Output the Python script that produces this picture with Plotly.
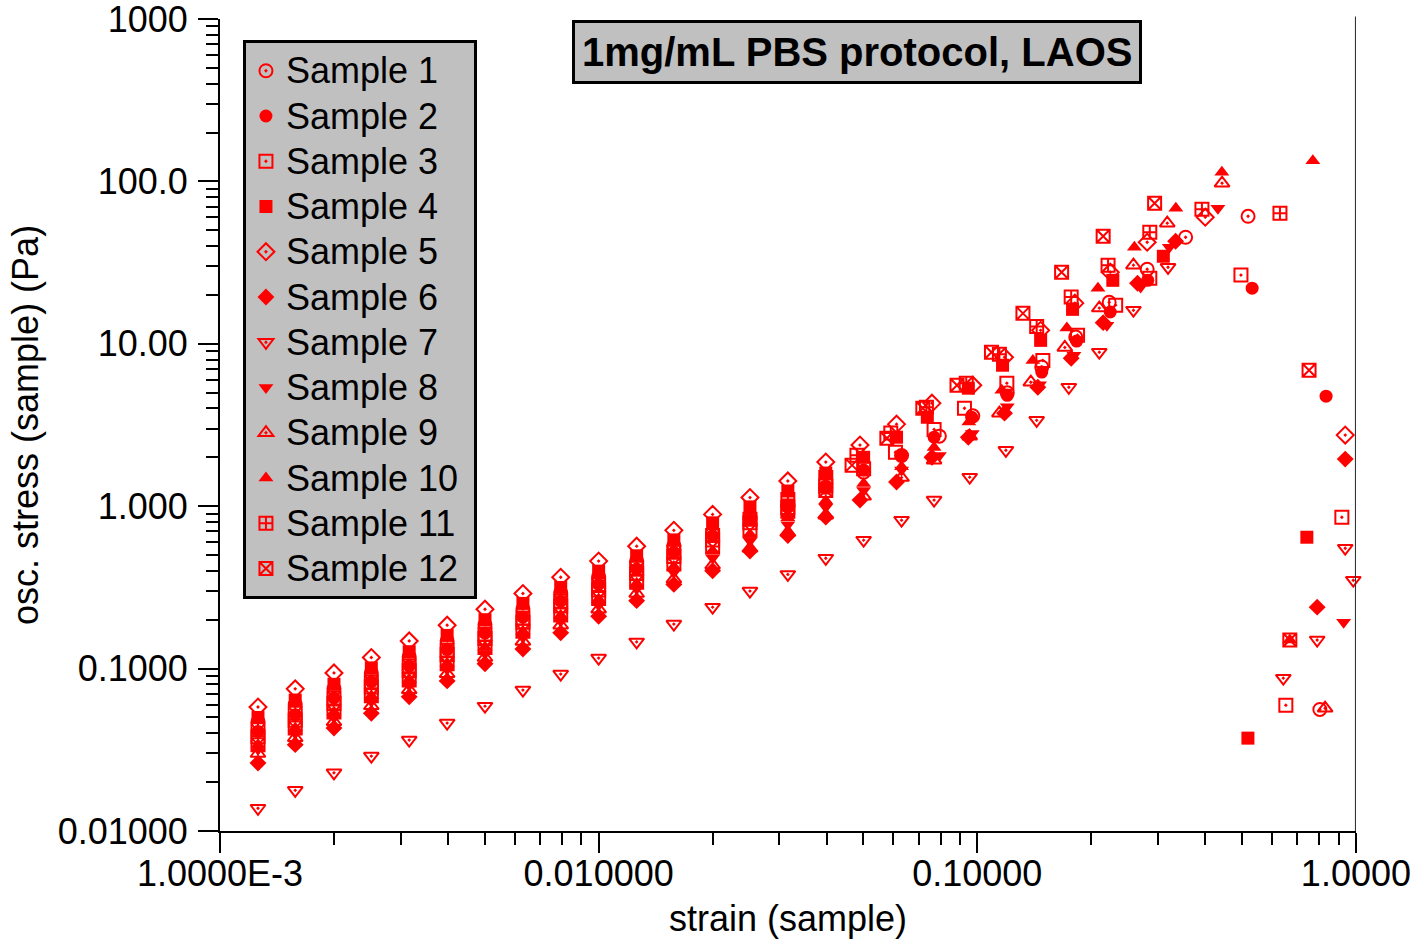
import plotly.graph_objects as go

# Shared strain amplitude steps of the sweep (low-amplitude part, 0.1 decade apart)
STRAIN_STEPS = [0.00126, 0.00158, 0.00200, 0.00251, 0.00316, 0.00398, 0.00501, 0.00631,
                0.00794, 0.0100, 0.0126, 0.0158, 0.0200, 0.0251, 0.0316, 0.0398]

# Stress at the shared steps, then the large-amplitude tail of each run
s1_low = [0.047, 0.060, 0.075, 0.094, 0.118, 0.148, 0.186, 0.233, 0.293, 0.368, 0.46, 0.57, 0.68, 0.84, 1.0, 1.31]
s1_tail_strain = [0.0501, 0.0631, 0.0794, 0.0973, 0.120, 0.148, 0.182, 0.223, 0.281, 0.355, 0.519, 0.803]
s1_tail_stress = [1.62, 2.05, 2.7, 3.6, 5.0, 7.2, 11.0, 18.0, 28.8, 45.3, 61.0, 0.056]

s2_low = [0.041, 0.052, 0.066, 0.083, 0.104, 0.131, 0.165, 0.207, 0.26, 0.33, 0.41, 0.52, 0.66, 0.83, 1.0, 1.3]
s2_tail_strain = [0.0501, 0.0631, 0.0769, 0.0967, 0.120, 0.148, 0.183, 0.2245, 0.282, 0.532, 0.834]
s2_tail_stress = [1.67, 2.06, 2.66, 3.53, 4.82, 6.7, 10.4, 15.7, 24.6, 22.0, 4.76]

s3_low = [0.038, 0.048, 0.061, 0.077, 0.097, 0.122, 0.153, 0.193, 0.243, 0.305, 0.385, 0.49, 0.62, 0.79, 0.98, 1.33]
s3_tail_strain = [0.0501, 0.0608, 0.0769, 0.0925, 0.1197, 0.149, 0.184, 0.232, 0.2855, 0.497, 0.918, 0.653]
s3_tail_stress = [1.7, 2.15, 2.97, 4.01, 5.72, 7.9, 11.3, 17.3, 25.3, 26.5, 0.855, 0.0595]

s4_low = [0.050, 0.064, 0.080, 0.101, 0.127, 0.160, 0.200, 0.252, 0.316, 0.398, 0.495, 0.62, 0.79, 0.99, 1.24, 1.60]
s4_tail_strain = [0.0501, 0.0612, 0.0738, 0.0947, 0.1166, 0.147, 0.1785, 0.228, 0.310, 0.742, 0.5185]
s4_tail_stress = [2.0, 2.66, 3.53, 5.33, 7.38, 10.5, 16.3, 24.6, 34.6, 0.644, 0.0373]

s5_low = [0.058, 0.075, 0.094, 0.117, 0.148, 0.185, 0.232, 0.29, 0.365, 0.459, 0.567, 0.71, 0.89, 1.13, 1.43, 1.87]
s5_tail_strain = [0.049, 0.0612, 0.0759, 0.0973, 0.118, 0.147, 0.181, 0.2245, 0.281, 0.400, 0.937]
s5_tail_stress = [2.38, 3.20, 4.31, 5.56, 8.27, 12.1, 17.8, 27.6, 42.2, 60.2, 2.74]

s6_low = [0.0262, 0.034, 0.043, 0.053, 0.067, 0.084, 0.107, 0.132, 0.166, 0.21, 0.262, 0.33, 0.40, 0.53, 0.66, 0.856]
s6_tail_strain = [0.049, 0.0612, 0.0759, 0.0947, 0.118, 0.1445, 0.177, 0.215, 0.265, 0.334, 0.937, 0.790]
s6_tail_stress = [1.09, 1.41, 2.0, 2.66, 3.74, 5.4, 8.15, 13.5, 23.6, 42.8, 1.95, 0.239]

s7_low = [0.0138, 0.0178, 0.0228, 0.0289, 0.0363, 0.0462, 0.0587, 0.0737, 0.0925, 0.116, 0.146, 0.188, 0.239, 0.30, 0.38, 0.478]
s7_tail_strain = [0.0501, 0.0631, 0.0769, 0.0955, 0.119, 0.1435, 0.1745, 0.210, 0.2585, 0.319, 0.643, 0.790, 0.937, 0.984]
s7_tail_stress = [0.618, 0.82, 1.09, 1.51, 2.21, 3.38, 5.40, 8.88, 16.1, 29.6, 0.0873, 0.15, 0.551, 0.35]

s8_low = [0.032, 0.040, 0.050, 0.063, 0.079, 0.099, 0.124, 0.156, 0.196, 0.246, 0.31, 0.39, 0.48, 0.61, 0.77, 0.986]
s8_tail_strain = [0.0501, 0.0631, 0.0794, 0.097, 0.120, 0.146, 0.180, 0.220, 0.270, 0.3215, 0.432, 0.928]
s8_tail_stress = [1.25, 1.67, 2.05, 2.8, 4.1, 5.6, 8.5, 13.0, 22.4, 39.3, 68.4, 0.193]

s9_low = [0.030, 0.0375, 0.047, 0.059, 0.074, 0.093, 0.117, 0.147, 0.185, 0.232, 0.29, 0.355, 0.433, 0.55, 0.69, 0.88]
s9_tail_strain = [0.0501, 0.0631, 0.0769, 0.0955, 0.1144, 0.1385, 0.1703, 0.210, 0.2585, 0.3175, 0.443, 0.829]
s9_tail_stress = [1.15, 1.5, 1.92, 2.7, 3.74, 5.8, 9.5, 16.6, 30.5, 55.3, 97.5, 0.057]

s10_low = [0.034, 0.043, 0.054, 0.068, 0.086, 0.108, 0.136, 0.170, 0.213, 0.268, 0.335, 0.425, 0.53, 0.67, 0.85, 1.08]
s10_tail_strain = [0.0501, 0.0631, 0.0769, 0.095, 0.1161, 0.1402, 0.1724, 0.2083, 0.260, 0.3345, 0.4425, 0.7695, 0.669]
s10_tail_stress = [1.38, 1.75, 2.3, 3.3, 5.18, 7.9, 12.5, 22.0, 39.3, 68.4, 114, 134, 0.15]

s11_low = [0.042, 0.053, 0.066, 0.083, 0.104, 0.13, 0.163, 0.205, 0.26, 0.33, 0.415, 0.52, 0.66, 0.83, 1.1, 1.5]
s11_tail_strain = [0.0481, 0.0591, 0.0734, 0.0935, 0.1144, 0.1435, 0.177, 0.2215, 0.2855, 0.392, 0.630]
s11_tail_stress = [2.06, 2.82, 4.07, 5.72, 8.63, 12.8, 19.4, 30.5, 48.7, 67.4, 63.7]

s12_low = [0.034, 0.043, 0.054, 0.068, 0.085, 0.107, 0.135, 0.17, 0.214, 0.27, 0.34, 0.44, 0.56, 0.71, 0.93, 1.25]
s12_tail_strain = [0.0467, 0.0577, 0.0718, 0.0884, 0.109, 0.132, 0.167, 0.215, 0.294, 0.752, 0.669]
s12_tail_stress = [1.79, 2.62, 4.01, 5.56, 8.88, 15.4, 27.6, 46.0, 73.4, 6.88, 0.15]

X_TICKS = [0.001, 0.01, 0.1, 1.0]
X_TICK_TEXT = ["1.0000E-3", "0.010000", "0.10000", "1.0000"]
Y_TICKS = [0.01, 0.1, 1.0, 10.0, 100.0, 1000.0]
Y_TICK_TEXT = ["0.01000", "0.1000", "1.000", "10.00", "100.0", "1000"]

samples = [
    ("Sample 1", "circle-open-dot", s1_low, s1_tail_strain, s1_tail_stress),
    ("Sample 2", "circle", s2_low, s2_tail_strain, s2_tail_stress),
    ("Sample 3", "square-open-dot", s3_low, s3_tail_strain, s3_tail_stress),
    ("Sample 4", "square", s4_low, s4_tail_strain, s4_tail_stress),
    ("Sample 5", "diamond-open-dot", s5_low, s5_tail_strain, s5_tail_stress),
    ("Sample 6", "diamond", s6_low, s6_tail_strain, s6_tail_stress),
    ("Sample 7", "triangle-down-open-dot", s7_low, s7_tail_strain, s7_tail_stress),
    ("Sample 8", "triangle-down", s8_low, s8_tail_strain, s8_tail_stress),
    ("Sample 9", "triangle-up-open-dot", s9_low, s9_tail_strain, s9_tail_stress),
    ("Sample 10", "triangle-up", s10_low, s10_tail_strain, s10_tail_stress),
    ("Sample 11", "square-cross-open", s11_low, s11_tail_strain, s11_tail_stress),
    ("Sample 12", "square-x-open", s12_low, s12_tail_strain, s12_tail_stress),
]

FONT = "Liberation Sans, Arial, sans-serif"
RED = "#ff0000"

fig = go.Figure()
for name, symbol, low, tail_x, tail_y in samples:
    is_open = "open" in symbol
    fig.add_trace(go.Scatter(
        x=STRAIN_STEPS + tail_x,
        y=low + tail_y,
        mode="markers",
        # legend rows are spaced by the legend font size; the label itself is set larger
        name="<span style='font-size:36px'>" + name + "&nbsp;</span>",
        cliponaxis=False,
        marker=dict(
            symbol=symbol,
            size=13,
            color=RED,
            line=dict(color=RED, width=2 if is_open else 0),
        ),
    ))


def minor_vals(lo_exp, hi_exp):
    vals = []
    for e in range(lo_exp, hi_exp):
        for m in range(2, 10):
            vals.append(m * 10.0 ** e)
    return vals


fig.update_layout(
    width=1416,
    height=943,
    margin=dict(l=220, r=60, t=19, b=112),
    paper_bgcolor="white",
    plot_bgcolor="white",
    font=dict(family=FONT, size=36, color="black"),
    showlegend=True,
    legend=dict(
        x=0.0202, y=0.974, xanchor="left", yanchor="top",
        bgcolor="#c0c0c0", bordercolor="black", borderwidth=3,
        font=dict(family=FONT, size=32.5, color="black"),
        itemwidth=30, tracegroupgap=0,
    ),
    xaxis=dict(
        type="log", range=[-3, 0.0002], automargin=False,
        showgrid=False, zeroline=False,
        showline=True, linecolor="black", linewidth=2,
        ticks="outside", ticklen=20, tickwidth=2, tickcolor="black",
        tickmode="array", tickvals=X_TICKS, ticktext=X_TICK_TEXT,
        tickfont=dict(family=FONT, size=36),
        ticklabelstandoff=-10, ticklabeloverflow="allow",
        minor=dict(ticks="outside", ticklen=12, tickwidth=2, tickcolor="black",
                   tickmode="array", tickvals=minor_vals(-3, 0), showgrid=False),
    ),
    yaxis=dict(
        type="log", range=[-2.0002, 3.0002], automargin=False,
        showgrid=False, zeroline=False,
        showline=True, linecolor="black", linewidth=2,
        ticks="outside", ticklen=20, tickwidth=2, tickcolor="black",
        tickmode="array", tickvals=Y_TICKS, ticktext=Y_TICK_TEXT,
        tickfont=dict(family=FONT, size=36),
        ticklabelstandoff=3, ticklabeloverflow="allow",
        minor=dict(ticks="outside", ticklen=12, tickwidth=2, tickcolor="black",
                   tickmode="array", tickvals=minor_vals(-2, 3), showgrid=False),
    ),
    shapes=[
        dict(type="line", xref="x", yref="paper", x0=1.0, x1=1.0, y0=0, y1=1.003,
             line=dict(color="#333333", width=2)),
    ],
    annotations=[
        dict(
            text="<b>1mg/mL PBS protocol, LAOS</b>",
            xref="paper", yref="paper", x=0.5603, y=0.9594,
            xanchor="center", yanchor="middle", showarrow=False,
            font=dict(family=FONT, size=40, color="black"),
            bgcolor="#c0c0c0", bordercolor="black", borderwidth=3, borderpad=7,
        ),
        # axis titles
        dict(
            text="strain (sample)",
            xref="paper", yref="paper", x=0.5, y=-0.1075,
            xanchor="center", yanchor="middle", showarrow=False,
            font=dict(family=FONT, size=36, color="black"),
        ),
        dict(
            text="osc. stress (sample) (Pa)",
            xref="paper", yref="paper", x=-0.1717, y=0.5,
            xanchor="center", yanchor="middle", showarrow=False, textangle=-90,
            font=dict(family=FONT, size=36, color="black"),
        ),
    ],
)

fig.write_html("out.html")
